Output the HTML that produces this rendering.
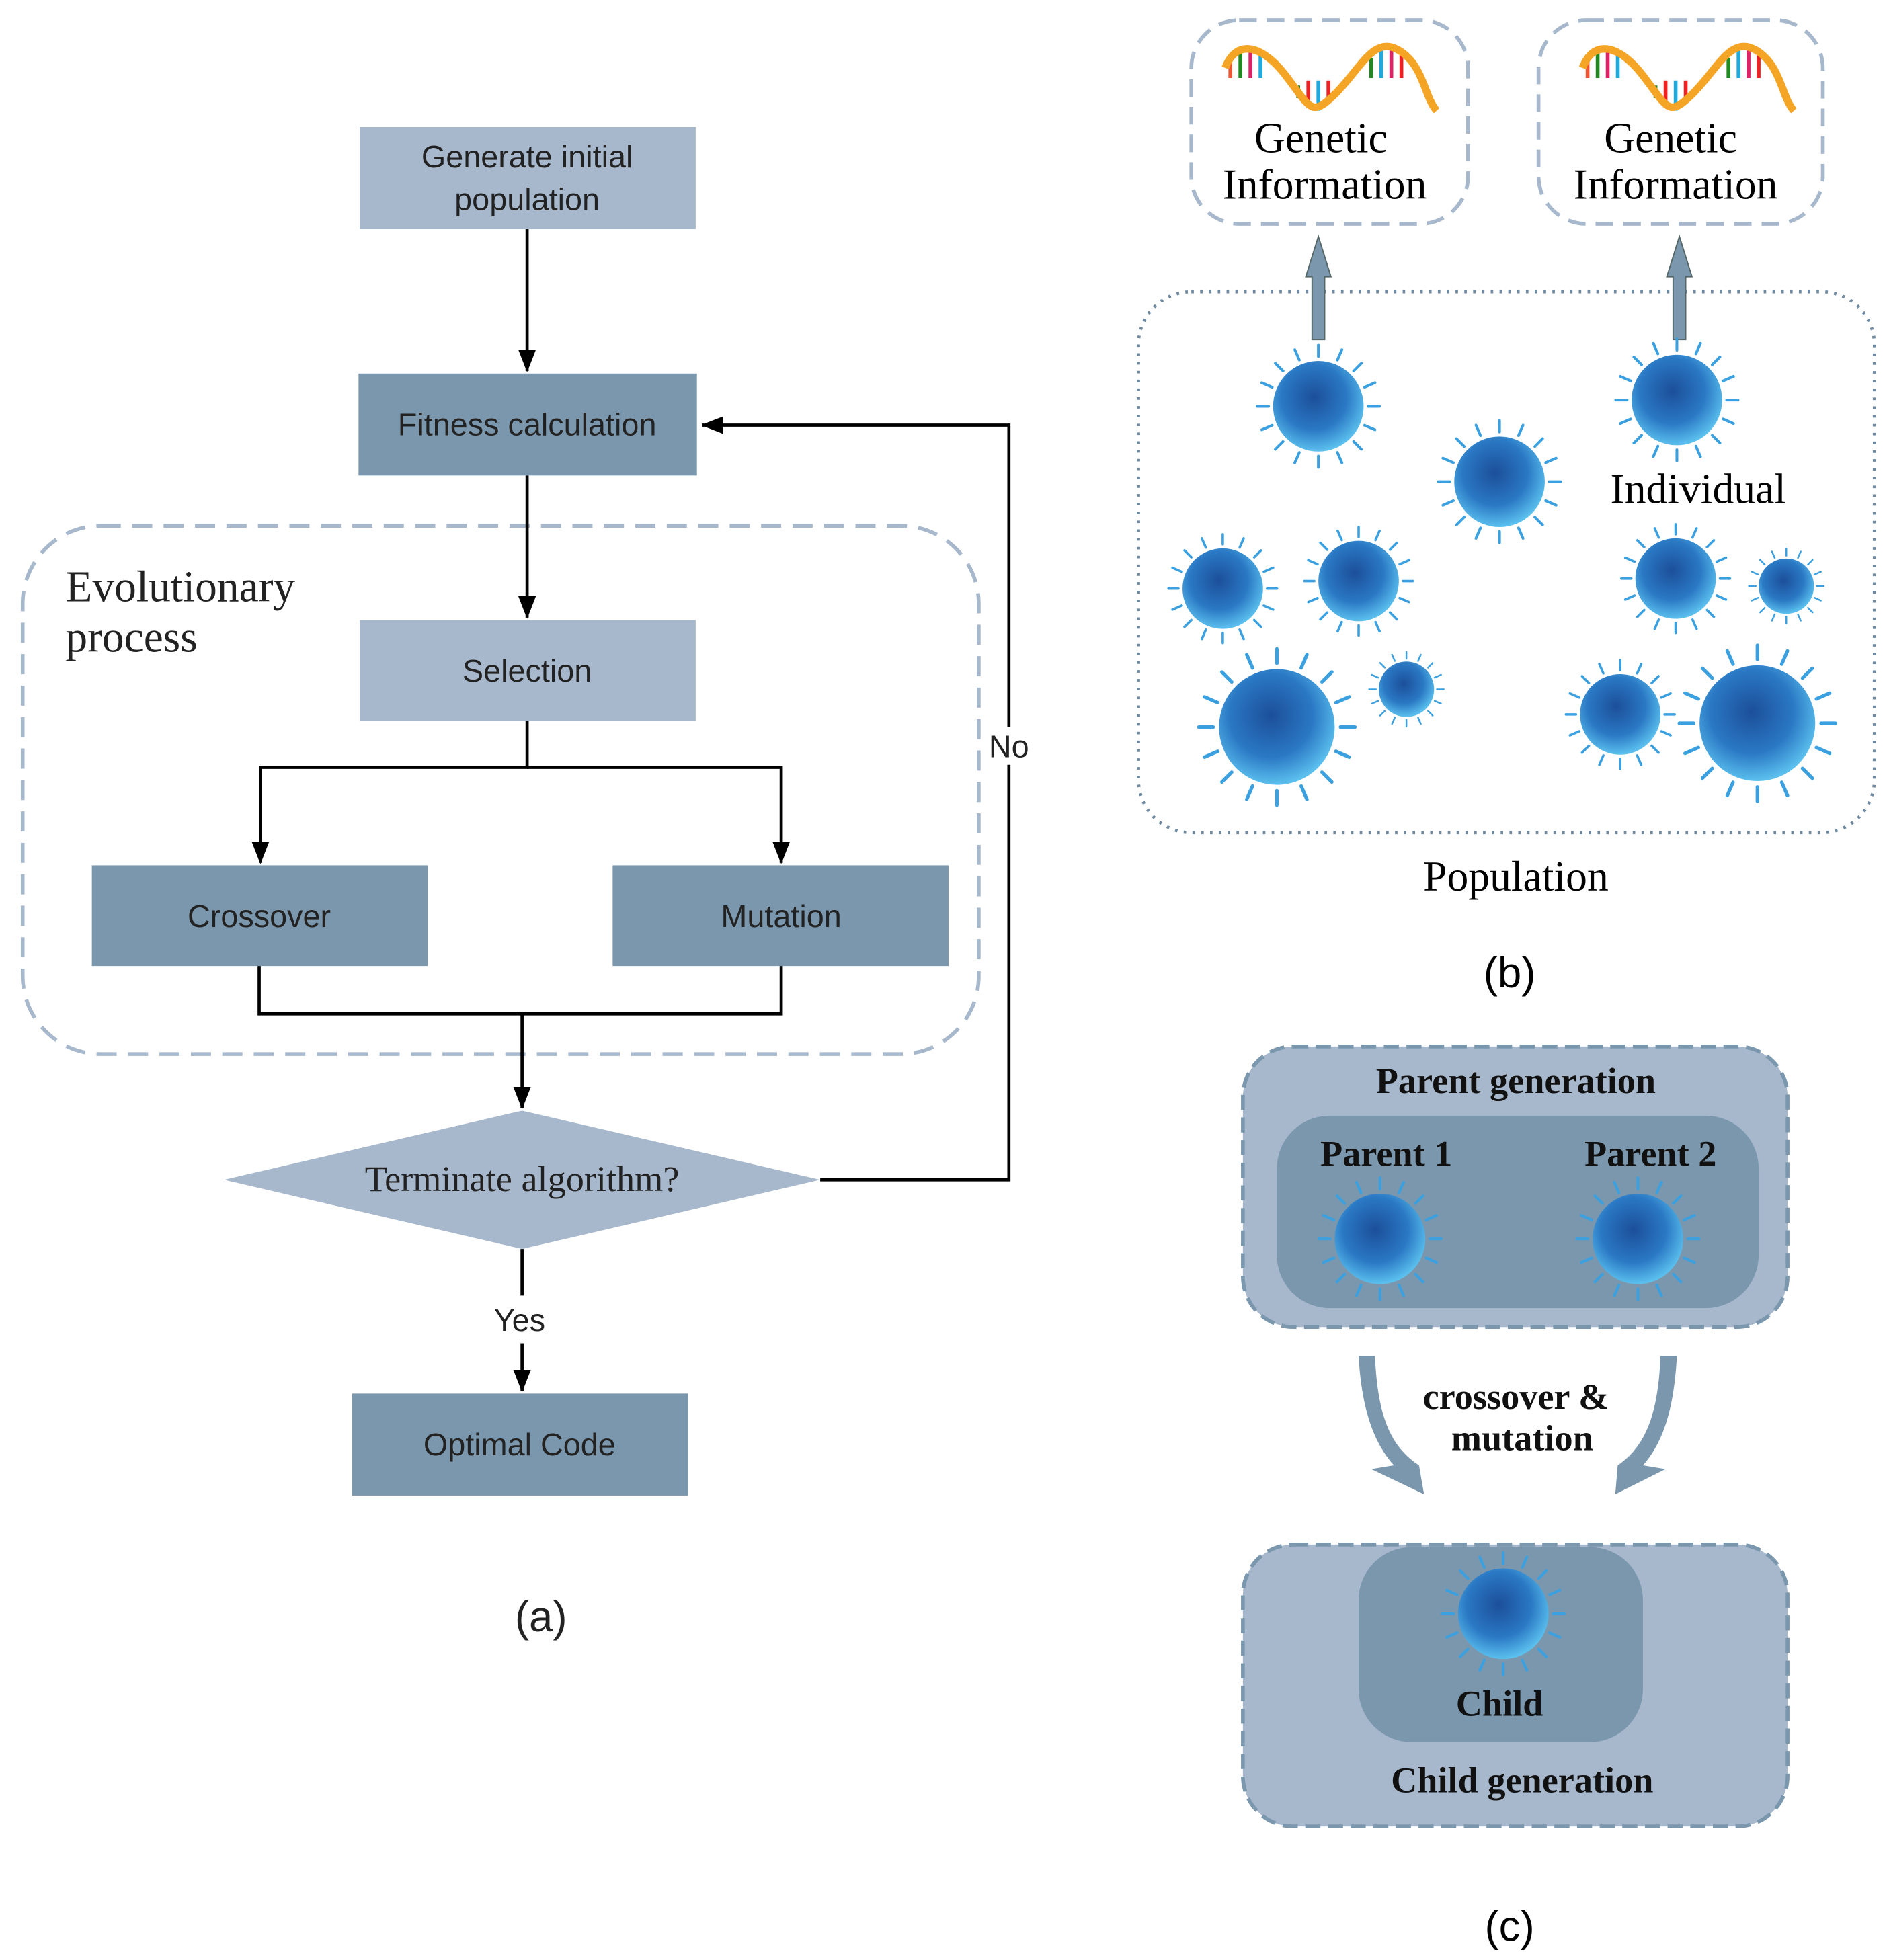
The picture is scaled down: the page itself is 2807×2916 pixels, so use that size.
<!DOCTYPE html>
<html><head><style>html,body{margin:0;padding:0;background:#fff}svg{display:block}</style></head>
<body>
<svg width="2807" height="2916" viewBox="0 0 1500 1558.3" xmlns="http://www.w3.org/2000/svg">
<defs>
<radialGradient id="vg" cx="0.45" cy="0.4" r="0.6">
<stop offset="0" stop-color="#1c4f9a"/><stop offset="0.6" stop-color="#2a78c4"/><stop offset="1" stop-color="#5bc0ee"/>
</radialGradient>
<marker id="ah" markerWidth="18" markerHeight="18" refX="17" refY="9" orient="auto" markerUnits="userSpaceOnUse" viewBox="0 0 18 18">
<path d="M0,2 L18,9 L0,16 z" fill="#000"/></marker>
<g id="v">
<g stroke="#3aa0e0" stroke-width="0.06" stroke-linecap="round">
<line x1="0" y1="-1.1" x2="0" y2="-1.35"/><line x1="0" y1="1.1" x2="0" y2="1.35"/>
<line x1="-1.1" y1="0" x2="-1.35" y2="0"/><line x1="1.1" y1="0" x2="1.35" y2="0"/>
<line x1="0.78" y1="0.78" x2="0.95" y2="0.95"/><line x1="-0.78" y1="0.78" x2="-0.95" y2="0.95"/>
<line x1="0.78" y1="-0.78" x2="0.95" y2="-0.95"/><line x1="-0.78" y1="-0.78" x2="-0.95" y2="-0.95"/>
<line x1="0.42" y1="-1.02" x2="0.52" y2="-1.25"/><line x1="-0.42" y1="-1.02" x2="-0.52" y2="-1.25"/>
<line x1="0.42" y1="1.02" x2="0.52" y2="1.25"/><line x1="-0.42" y1="1.02" x2="-0.52" y2="1.25"/>
<line x1="1.02" y1="0.42" x2="1.25" y2="0.52"/><line x1="-1.02" y1="0.42" x2="-1.25" y2="0.52"/>
<line x1="1.02" y1="-0.42" x2="1.25" y2="-0.52"/><line x1="-1.02" y1="-0.42" x2="-1.25" y2="-0.52"/>
</g>
<circle r="1" fill="url(#vg)"/>
</g>
<g id="dna">
<g stroke-width="3">
<line x1="6" y1="14" x2="6" y2="30" stroke="#e53"/><line x1="14" y1="6" x2="14" y2="30" stroke="#282"/><line x1="22" y1="6" x2="22" y2="30" stroke="#d26"/><line x1="30" y1="12" x2="30" y2="30" stroke="#2ad"/>
<line x1="60" y1="36" x2="60" y2="46" stroke="#282"/><line x1="68" y1="32" x2="68" y2="54" stroke="#e22"/><line x1="76" y1="32" x2="76" y2="56" stroke="#2ad"/><line x1="84" y1="32" x2="84" y2="50" stroke="#e22"/>
<line x1="118" y1="14" x2="118" y2="30" stroke="#282"/><line x1="126" y1="6" x2="126" y2="30" stroke="#2ad"/><line x1="134" y1="6" x2="134" y2="30" stroke="#d26"/><line x1="142" y1="12" x2="142" y2="30" stroke="#e22"/>
</g>
<path d="M2,22 C10,0 30,2 50,28 S 70,62 90,42 S 120,-4 140,8 S 160,45 170,56" fill="none" stroke="#f4a526" stroke-width="6"/>
</g>
</defs>

<g font-family="'Liberation Sans', sans-serif" font-size="25" fill="#222" text-anchor="middle">
<rect x="286" y="101" width="267" height="81" fill="#a7b8cc"/>
<text x="419" y="133">Generate initial</text><text x="419" y="167">population</text>
<rect x="285" y="297" width="269" height="81" fill="#7a97ad"/>
<text x="419" y="346">Fitness calculation</text>
<rect x="18" y="418" width="760" height="420" rx="62" fill="none" stroke="#a7b8cc" stroke-width="3" stroke-dasharray="16,9"/>
<rect x="286" y="493" width="267" height="80" fill="#a7b8cc"/>
<text x="419" y="542">Selection</text>
<rect x="73" y="688" width="267" height="80" fill="#7a97ad"/>
<text x="206" y="737">Crossover</text>
<rect x="487" y="688" width="267" height="80" fill="#7a97ad"/>
<text x="621" y="737">Mutation</text>
<polygon points="178,938 415,883 652,938 415,993" fill="#a7b8cc"/>
<text x="415" y="947" font-family="'Liberation Serif', serif" font-size="29">Terminate algorithm?</text>
<rect x="280" y="1108" width="267" height="81" fill="#7a97ad"/>
<text x="413" y="1157">Optimal Code</text>
<text x="802" y="602">No</text>
<text x="413" y="1058">Yes</text>
<text x="430" y="1297" font-size="34">(a)</text>
<text x="52" y="478" text-anchor="start" font-family="'Liberation Serif', serif" font-size="35">Evolutionary</text>
<text x="52" y="518" text-anchor="start" font-family="'Liberation Serif', serif" font-size="35">process</text>
</g>
<g stroke="#000" stroke-width="2.5" fill="none">
<line x1="419" y1="182" x2="419" y2="295" marker-end="url(#ah)"/>
<line x1="419" y1="378" x2="419" y2="491" marker-end="url(#ah)"/>
<polyline points="419,573 419,610 207,610 207,686" marker-end="url(#ah)"/>
<polyline points="419,610 621,610 621,686"  marker-end="url(#ah)"/>
<polyline points="206,768 206,806 621,806 621,768"/>
<line x1="415" y1="806" x2="415" y2="881" marker-end="url(#ah)"/>
<line x1="415" y1="993" x2="415" y2="1030"/>
<line x1="415" y1="1068" x2="415" y2="1106" marker-end="url(#ah)"/>
<polyline points="652,938 802,938 802,608"/>
<polyline points="802,578 802,338 558,338" marker-end="url(#ah)"/>
</g>

<!-- (b) -->
<rect x="947" y="16" width="220" height="162" rx="38" fill="none" stroke="#a7b8cc" stroke-width="3" stroke-dasharray="14,8"/>
<rect x="1223" y="16" width="226" height="162" rx="38" fill="none" stroke="#a7b8cc" stroke-width="3" stroke-dasharray="14,8"/>
<use href="#dna" transform="translate(972,32)"/>
<use href="#dna" transform="translate(1256,32)"/>
<g font-family="'Liberation Serif', serif" font-size="34" fill="#000" text-anchor="middle">
<text x="1050" y="121">Genetic</text><text x="1053" y="158">Information</text>
<text x="1328" y="121">Genetic</text><text x="1332" y="158">Information</text>
<text x="1350" y="400">Individual</text>
<text x="1205" y="708">Population</text>
</g>
<rect x="905" y="232" width="585" height="430" rx="42" fill="none" stroke="#6f8aa0" stroke-width="2.5" stroke-dasharray="2,5"/>
<path d="M1043,270 L1043,220 L1038,220 L1048,188 L1058,220 L1053,220 L1053,270 z" fill="#7a97ad" stroke="#566" stroke-width="1"/>
<path d="M1330,270 L1330,220 L1325,220 L1335,188 L1345,220 L1340,220 L1340,270 z" fill="#7a97ad" stroke="#566" stroke-width="1"/>
<use href="#v" transform="translate(1048,323) scale(36)"/>
<use href="#v" transform="translate(1192,383) scale(36)"/>
<use href="#v" transform="translate(1333,318) scale(36)"/>
<use href="#v" transform="translate(972,468) scale(32)"/>
<use href="#v" transform="translate(1080,462) scale(32)"/>
<use href="#v" transform="translate(1332,460) scale(32)"/>
<use href="#v" transform="translate(1420,466) scale(22)"/>
<use href="#v" transform="translate(1015,578) scale(46)"/>
<use href="#v" transform="translate(1118,548) scale(22)"/>
<use href="#v" transform="translate(1288,568) scale(32)"/>
<use href="#v" transform="translate(1397,575) scale(46)"/>
<text x="1200" y="785" font-family="'Liberation Sans', sans-serif" font-size="34" text-anchor="middle">(b)</text>

<!-- (c) -->
<rect x="988" y="832" width="433" height="223" rx="40" fill="#a7b8cc" stroke="#7a97ad" stroke-width="3" stroke-dasharray="12,6"/>
<rect x="1015" y="887" width="383" height="153" rx="42" fill="#7a97ad"/>
<rect x="988" y="1228" width="433" height="224" rx="40" fill="#a7b8cc" stroke="#7a97ad" stroke-width="3" stroke-dasharray="12,6"/>
<rect x="1080" y="1230" width="226" height="155" rx="42" fill="#7a97ad"/>
<use href="#v" transform="translate(1097,985) scale(36)"/>
<use href="#v" transform="translate(1302,985) scale(36)"/>
<use href="#v" transform="translate(1195,1283) scale(36)"/>
<path d="M1080,1078 L1093,1078 C1095,1125 1105,1150 1128,1165 L1132,1188 L1090,1168 L1108,1165 C1090,1145 1082,1115 1080,1078 z" fill="#7a97ad"/>
<path d="M1333,1078 L1320,1078 C1318,1125 1308,1150 1286,1165 L1284,1188 L1324,1168 L1306,1165 C1324,1145 1331,1115 1333,1078 z" fill="#7a97ad"/>
<g font-family="'Liberation Serif', serif" font-size="29" fill="#111" text-anchor="middle" font-weight="bold">
<text x="1205" y="869">Parent generation</text>
<text x="1102" y="927">Parent 1</text>
<text x="1312" y="927">Parent 2</text>
<text x="1205" y="1120">crossover &amp;</text>
<text x="1210" y="1153">mutation</text>
<text x="1192" y="1364">Child</text>
<text x="1210" y="1425">Child generation</text>
</g>
<text x="1200" y="1543" font-family="'Liberation Sans', sans-serif" font-size="34" text-anchor="middle">(c)</text>
</svg>
</body></html>
